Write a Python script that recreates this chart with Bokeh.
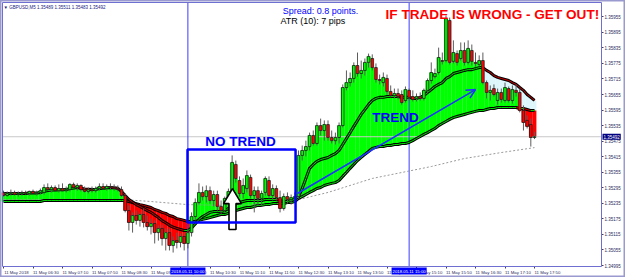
import numpy as np
from bokeh.plotting import figure
from bokeh.models import (FixedTicker, BoxAnnotation, Label, Arrow, OpenHead,
                          Range1d, PrintfTickFormatter, LinearAxis)
from bokeh.embed import file_html
from bokeh.resources import INLINE

# ---------------- data (GBPUSD, M5, 11 May 2018 05:50 .. 17:50) ----------------
open_ = [1.35277, 1.35265, 1.35273, 1.35277, 1.35269, 1.35273, 1.35277, 1.35273, 1.35281, 1.35273,
         1.35277, 1.35277, 1.35296, 1.35288, 1.35296, 1.35284, 1.35292, 1.35284, 1.35288, 1.35308,
         1.35296, 1.35304, 1.35288, 1.35281, 1.35288, 1.35284, 1.35292, 1.35300, 1.35292, 1.35300,
         1.35296, 1.35292, 1.35288, 1.35265, 1.35207, 1.35161, 1.35188, 1.35169, 1.35192, 1.35161,
         1.35145, 1.35157, 1.35122, 1.35138, 1.35099, 1.35122, 1.35072, 1.35091, 1.35084, 1.35107,
         1.35080, 1.35122, 1.35184, 1.35238, 1.35277, 1.35261, 1.35284, 1.35246, 1.35269, 1.35223,
         1.35207, 1.35254, 1.35284, 1.35385, 1.35323, 1.35273, 1.35292, 1.35335, 1.35265, 1.35284,
         1.35254, 1.35277, 1.35323, 1.35265, 1.35292, 1.35257, 1.35215, 1.35261, 1.35250, 1.35257,
         1.35261, 1.35420, 1.35439, 1.35454, 1.35497, 1.35466, 1.35535, 1.35516, 1.35539, 1.35489,
         1.35477, 1.35489, 1.35535, 1.35682, 1.35701, 1.35717, 1.35767, 1.35736, 1.35748, 1.35779,
         1.35794, 1.35759, 1.35713, 1.35701, 1.35717, 1.35667, 1.35651, 1.35659, 1.35655, 1.35632,
         1.35671, 1.35647, 1.35640, 1.35647, 1.35640, 1.35671, 1.35709, 1.35724, 1.35740, 1.35786,
         1.35786, 1.35941, 1.35783, 1.35813, 1.35794, 1.35825, 1.35779, 1.35825, 1.35779, 1.35771,
         1.35786, 1.35701, 1.35663, 1.35678, 1.35632, 1.35663, 1.35632, 1.35678, 1.35632, 1.35671,
         1.35663, 1.35593, 1.35555, 1.35539, 1.35489]

high = [1.35284, 1.35281, 1.35288, 1.35284, 1.35281, 1.35284, 1.35284, 1.35284, 1.35288, 1.35284,
        1.35292, 1.35308, 1.35312, 1.35304, 1.35304, 1.35308, 1.35312, 1.35300, 1.35312, 1.35315,
        1.35312, 1.35308, 1.35300, 1.35296, 1.35300, 1.35300, 1.35312, 1.35312, 1.35308, 1.35312,
        1.35308, 1.35304, 1.35300, 1.35273, 1.35227, 1.35200, 1.35207, 1.35200, 1.35215, 1.35188,
        1.35176, 1.35169, 1.35149, 1.35153, 1.35138, 1.35138, 1.35107, 1.35122, 1.35119, 1.35122,
        1.35138, 1.35200, 1.35254, 1.35312, 1.35300, 1.35304, 1.35300, 1.35284, 1.35284, 1.35246,
        1.35261, 1.35292, 1.35420, 1.35400, 1.35339, 1.35331, 1.35362, 1.35346, 1.35300, 1.35300,
        1.35284, 1.35339, 1.35339, 1.35308, 1.35304, 1.35284, 1.35273, 1.35277, 1.35269, 1.35277,
        1.35439, 1.35458, 1.35477, 1.35508, 1.35516, 1.35547, 1.35562, 1.35555, 1.35555, 1.35516,
        1.35508, 1.35547, 1.35694, 1.35748, 1.35740, 1.35779, 1.35817, 1.35786, 1.35794, 1.35813,
        1.35810, 1.35775, 1.35732, 1.35740, 1.35732, 1.35690, 1.35678, 1.35678, 1.35671, 1.35686,
        1.35678, 1.35671, 1.35659, 1.35663, 1.35678, 1.35717, 1.35779, 1.35755, 1.35836, 1.35817,
        1.35960, 1.35952, 1.35864, 1.35825, 1.35856, 1.35856, 1.35864, 1.35848, 1.35817, 1.35806,
        1.35817, 1.35709, 1.35690, 1.35694, 1.35678, 1.35678, 1.35701, 1.35686, 1.35690, 1.35694,
        1.35678, 1.35613, 1.35574, 1.35562, 1.35511]

low = [1.35261, 1.35261, 1.35265, 1.35265, 1.35261, 1.35265, 1.35269, 1.35265, 1.35269, 1.35265,
       1.35269, 1.35269, 1.35284, 1.35277, 1.35281, 1.35277, 1.35281, 1.35277, 1.35281, 1.35292,
       1.35284, 1.35281, 1.35277, 1.35273, 1.35277, 1.35277, 1.35284, 1.35288, 1.35284, 1.35288,
       1.35284, 1.35281, 1.35261, 1.35200, 1.35130, 1.35122, 1.35153, 1.35145, 1.35142, 1.35130,
       1.35115, 1.35080, 1.35091, 1.35072, 1.35053, 1.35053, 1.35045, 1.35061, 1.35065, 1.35053,
       1.35061, 1.35107, 1.35169, 1.35230, 1.35246, 1.35238, 1.35234, 1.35223, 1.35207, 1.35192,
       1.35200, 1.35227, 1.35265, 1.35315, 1.35261, 1.35254, 1.35277, 1.35254, 1.35200, 1.35227,
       1.35223, 1.35265, 1.35254, 1.35246, 1.35246, 1.35200, 1.35207, 1.35234, 1.35230, 1.35238,
       1.35254, 1.35400, 1.35416, 1.35439, 1.35458, 1.35458, 1.35497, 1.35477, 1.35477, 1.35466,
       1.35462, 1.35466, 1.35528, 1.35671, 1.35686, 1.35701, 1.35724, 1.35717, 1.35728, 1.35759,
       1.35748, 1.35701, 1.35694, 1.35686, 1.35655, 1.35644, 1.35640, 1.35636, 1.35616, 1.35624,
       1.35632, 1.35628, 1.35628, 1.35632, 1.35632, 1.35659, 1.35697, 1.35717, 1.35732, 1.35771,
       1.35779, 1.35771, 1.35775, 1.35767, 1.35786, 1.35767, 1.35771, 1.35767, 1.35763, 1.35763,
       1.35694, 1.35640, 1.35632, 1.35647, 1.35616, 1.35624, 1.35624, 1.35624, 1.35620, 1.35647,
       1.35586, 1.35516, 1.35524, 1.35454, 1.35483]

close = [1.35265, 1.35273, 1.35277, 1.35269, 1.35273, 1.35277, 1.35273, 1.35281, 1.35273, 1.35277,
         1.35284, 1.35296, 1.35288, 1.35296, 1.35284, 1.35292, 1.35284, 1.35288, 1.35308, 1.35296,
         1.35304, 1.35288, 1.35281, 1.35288, 1.35284, 1.35292, 1.35300, 1.35292, 1.35300, 1.35296,
         1.35292, 1.35288, 1.35265, 1.35207, 1.35161, 1.35188, 1.35169, 1.35192, 1.35161, 1.35145,
         1.35157, 1.35122, 1.35138, 1.35099, 1.35122, 1.35072, 1.35091, 1.35084, 1.35107, 1.35080,
         1.35122, 1.35184, 1.35238, 1.35277, 1.35261, 1.35284, 1.35246, 1.35269, 1.35223, 1.35207,
         1.35254, 1.35281, 1.35393, 1.35331, 1.35273, 1.35304, 1.35342, 1.35265, 1.35284, 1.35254,
         1.35273, 1.35331, 1.35265, 1.35292, 1.35257, 1.35215, 1.35261, 1.35250, 1.35257, 1.35261,
         1.35420, 1.35439, 1.35454, 1.35497, 1.35466, 1.35535, 1.35516, 1.35539, 1.35489, 1.35477,
         1.35489, 1.35535, 1.35682, 1.35701, 1.35717, 1.35767, 1.35736, 1.35748, 1.35779, 1.35802,
         1.35759, 1.35713, 1.35709, 1.35721, 1.35667, 1.35651, 1.35659, 1.35647, 1.35624, 1.35674,
         1.35644, 1.35636, 1.35647, 1.35640, 1.35671, 1.35709, 1.35740, 1.35736, 1.35798, 1.35783,
         1.35948, 1.35779, 1.35817, 1.35779, 1.35825, 1.35779, 1.35833, 1.35783, 1.35775, 1.35786,
         1.35701, 1.35663, 1.35671, 1.35655, 1.35663, 1.35636, 1.35682, 1.35632, 1.35674, 1.35663,
         1.35593, 1.35547, 1.35532, 1.35489, 1.35492]

fast_ma = [1.35273, 1.35273, 1.35273, 1.35273, 1.35273, 1.35273, 1.35273, 1.35275, 1.35275, 1.35275,
           1.35277, 1.35281, 1.35284, 1.35286, 1.35286, 1.35287, 1.35287, 1.35288, 1.35292, 1.35294,
           1.35296, 1.35293, 1.35290, 1.35289, 1.35288, 1.35289, 1.35292, 1.35293, 1.35295, 1.35296,
           1.35295, 1.35293, 1.35281, 1.35265, 1.35250, 1.35240, 1.35230, 1.35223, 1.35215, 1.35207,
           1.35200, 1.35190, 1.35180, 1.35168, 1.35160, 1.35150, 1.35143, 1.35138, 1.35134, 1.35130,
           1.35130, 1.35140, 1.35155, 1.35173, 1.35184, 1.35192, 1.35200, 1.35203, 1.35203, 1.35203,
           1.35207, 1.35215, 1.35230, 1.35234, 1.35238, 1.35242, 1.35246, 1.35246, 1.35246, 1.35246,
           1.35246, 1.35250, 1.35250, 1.35250, 1.35250, 1.35246, 1.35242, 1.35242, 1.35246, 1.35250,
           1.35261, 1.35292, 1.35331, 1.35370, 1.35385, 1.35397, 1.35404, 1.35408, 1.35412, 1.35420,
           1.35427, 1.35439, 1.35462, 1.35485, 1.35508, 1.35532, 1.35555, 1.35578, 1.35597, 1.35616,
           1.35632, 1.35640, 1.35644, 1.35644, 1.35647, 1.35647, 1.35647, 1.35647, 1.35644, 1.35644,
           1.35644, 1.35640, 1.35640, 1.35644, 1.35651, 1.35663, 1.35674, 1.35686, 1.35694, 1.35701,
           1.35717, 1.35724, 1.35736, 1.35740, 1.35744, 1.35748, 1.35751, 1.35751, 1.35755, 1.35759,
           1.35759, 1.35748, 1.35740, 1.35728, 1.35721, 1.35717, 1.35713, 1.35709, 1.35701, 1.35694,
           1.35682, 1.35671, 1.35655, 1.35644, 1.35632]

slow_ma = [1.35242, 1.35242, 1.35242, 1.35242, 1.35242, 1.35242, 1.35242, 1.35242, 1.35242, 1.35242,
           1.35242, 1.35246, 1.35246, 1.35246, 1.35246, 1.35246, 1.35246, 1.35246, 1.35246, 1.35246,
           1.35246, 1.35246, 1.35246, 1.35246, 1.35246, 1.35246, 1.35246, 1.35246, 1.35246, 1.35246,
           1.35246, 1.35246, 1.35246, 1.35246, 1.35242, 1.35238, 1.35234, 1.35230, 1.35227, 1.35223,
           1.35219, 1.35211, 1.35207, 1.35200, 1.35196, 1.35188, 1.35184, 1.35176, 1.35173, 1.35169,
           1.35165, 1.35165, 1.35165, 1.35169, 1.35173, 1.35176, 1.35180, 1.35184, 1.35188, 1.35192,
           1.35192, 1.35196, 1.35203, 1.35207, 1.35211, 1.35215, 1.35219, 1.35219, 1.35223, 1.35227,
           1.35227, 1.35230, 1.35230, 1.35234, 1.35234, 1.35234, 1.35234, 1.35238, 1.35238, 1.35242,
           1.35254, 1.35261, 1.35269, 1.35277, 1.35284, 1.35292, 1.35296, 1.35304, 1.35308, 1.35312,
           1.35315, 1.35323, 1.35339, 1.35354, 1.35370, 1.35385, 1.35400, 1.35412, 1.35424, 1.35435,
           1.35447, 1.35451, 1.35454, 1.35454, 1.35458, 1.35458, 1.35462, 1.35462, 1.35466, 1.35466,
           1.35470, 1.35477, 1.35485, 1.35493, 1.35501, 1.35508, 1.35516, 1.35524, 1.35535, 1.35543,
           1.35551, 1.35559, 1.35566, 1.35570, 1.35574, 1.35578, 1.35582, 1.35586, 1.35590, 1.35593,
           1.35593, 1.35597, 1.35601, 1.35601, 1.35605, 1.35605, 1.35605, 1.35605, 1.35605, 1.35605,
           1.35601, 1.35601, 1.35597, 1.35593, 1.35593]

long_ma_bars = [0, 16, 32, 40, 50, 60, 70, 79, 88, 100, 116, 125, 135, 144]
long_ma = [1.35250, 1.35250, 1.35250, 1.35242, 1.35230, 1.35227, 1.35230, 1.35246, 1.35277,
           1.35331, 1.35377, 1.35408, 1.35431, 1.35450]

time_tick_bars = [0, 8, 16, 24, 32, 40, 48, 56, 64, 72, 80, 88, 96, 104, 112, 120, 128, 136, 144]
time_labels = ["11 May 2018", "11 May 06:30", "11 May 07:10", "11 May 07:50", "11 May 08:30",
               "11 May 09:10", "11 May 09:50", "11 May 10:30", "11 May 11:10", "11 May 11:50",
               "11 May 12:30", "11 May 13:10", "11 May 13:50", "11 May 14:30", "11 May 15:10",
               "11 May 15:50", "11 May 16:30", "11 May 17:10", "11 May 17:50"]

price_ticks = [1.34995, 1.35055, 1.35115, 1.35175, 1.35235, 1.35295, 1.35355, 1.35415, 1.35475,
               1.35535, 1.35595, 1.35655, 1.35715, 1.35775, 1.35835, 1.35895, 1.35955]

vline_bars = [50, 110]
vline_labels = ["2018.05.11 10:00", "2018.05.11 15:00"]
last_price = 1.35492

# ---------------- geometry ----------------
o = np.array(open_); h = np.array(high); l = np.array(low); c = np.array(close)
fast = np.array(fast_ma); slow = np.array(slow_ma)
bars = np.arange(len(c))

PX_PER_BAR = 3.6875
X_START = -3 / PX_PER_BAR
X_END = X_START + 625 / PX_PER_BAR
PRICE_PER_PX = 0.0000386
Y_END = 1.360179
Y_START = Y_END - 277 * PRICE_PER_PX
# chart area (inside the terminal window)
CH_LEFT, CH_RIGHT = X_START + 2 / PX_PER_BAR, X_START + 601 / PX_PER_BAR
CH_TOP, CH_BOTTOM = Y_END - 2 * PRICE_PER_PX, Y_END - 266 * PRICE_PER_PX
FONT = "Liberation Sans"

p = figure(width=625, height=277, output_backend="svg", toolbar_location=None,
           x_range=Range1d(X_START, X_END), y_range=Range1d(Y_START, Y_END),
           x_axis_location=None, y_axis_location=None,
           min_border_left=0, min_border_right=0, min_border_top=0, min_border_bottom=0)
p.xgrid.visible = False
p.ygrid.visible = False
p.background_fill_color = "white"
p.border_fill_color = "white"
p.outline_line_color = "#9a9ad0"
p.outline_line_width = 2

# cloud between the two averages
band_col = ["#dcf6fb" if f >= s else "#fbe2e6" for f, s in zip(fast, slow)]
p.vbar(x=bars, top=np.maximum(fast, slow), bottom=np.minimum(fast, slow), width=1.04,
       fill_color=band_col, line_color=None)
# histogram between close and slow average
hist_col = ["#00ff00" if cc >= s else "#ff0000" for cc, s in zip(c, slow)]
p.vbar(x=bars, top=c, bottom=slow, width=1.04, fill_color=hist_col, line_color=None)

# current price line and vertical lines (inside chart area)
p.segment(x0=[CH_LEFT], y0=[last_price], x1=[CH_RIGHT], y1=[last_price],
          line_color="#c8c8c8", line_width=1)
p.segment(x0=vline_bars, y0=[CH_BOTTOM] * len(vline_bars), x1=vline_bars,
          y1=[CH_TOP] * len(vline_bars), line_color="#3c3cff", line_width=1)

# long average (dotted)
p.line(long_ma_bars, long_ma, line_color="#9a9a9a", line_width=1, line_dash="2 2")

# averages: black outline + coloured core
for ma in (slow, fast):
    p.line(bars, ma, line_color="black", line_width=3)
    seg_col = ["#00e000" if b >= a else "#d00000" for a, b in zip(ma[:-1], ma[1:])]
    p.segment(x0=bars[:-1], y0=ma[:-1], x1=bars[1:], y1=ma[1:], line_color=seg_col, line_width=1)

# candles
p.segment(x0=bars, y0=l, x1=bars, y1=h, line_color="#5c5c5c", line_width=1)
body_col = ["#00ff00" if cc >= oo else "#ff0000" for oo, cc in zip(o, c)]
p.vbar(x=bars, top=np.maximum(o, c), bottom=np.minimum(o, c), width=0.72,
       fill_color=body_col, line_color="#202020", line_width=0.8)

# chart border
p.add_layout(BoxAnnotation(left=CH_LEFT, right=CH_RIGHT, top=CH_TOP, bottom=CH_BOTTOM,
                           fill_alpha=0, line_color="#6f6fd2", line_alpha=1, line_width=1))

# ---------------- axes (fixed at the chart border) ----------------
shift = 3.5
label_pos = [t + shift for t in time_tick_bars]
xaxis = LinearAxis(fixed_location=CH_BOTTOM,
                   ticker=FixedTicker(ticks=label_pos, minor_ticks=time_tick_bars))
xaxis.major_label_overrides = {pos: lab for pos, lab in zip(label_pos, time_labels)}
xaxis.major_tick_line_color = None
xaxis.major_tick_out = 2
xaxis.major_tick_in = 0
xaxis.minor_tick_line_color = "#404060"
xaxis.minor_tick_out = 2
xaxis.minor_tick_in = 0
xaxis.axis_line_color = None
xaxis.major_label_standoff = 1
xaxis.major_label_text_font = FONT
xaxis.major_label_text_font_size = "4.3px"
xaxis.major_label_text_color = "#2a2a60"
p.add_layout(xaxis, "below")

yaxis = LinearAxis(fixed_location=CH_RIGHT, ticker=FixedTicker(ticks=price_ticks),
                   formatter=PrintfTickFormatter(format="%.5f"))
yaxis.major_tick_out = 2
yaxis.major_tick_in = 0
yaxis.major_tick_line_color = "#404060"
yaxis.minor_tick_line_color = None
yaxis.axis_line_color = None
yaxis.major_label_standoff = 1
yaxis.major_label_text_font = FONT
yaxis.major_label_text_font_size = "4.5px"
yaxis.major_label_text_color = "#2a2a60"
p.add_layout(yaxis, "right")

# ---------------- annotations ----------------
for vb, txt in zip(vline_bars, vline_labels):
    p.add_layout(Label(x=vb, y=CH_BOTTOM, y_offset=-4.5, text=txt, text_align="center",
                       text_baseline="middle", text_color="white", text_font=FONT,
                       text_font_size="4.3px", background_fill_color="#0000ff", padding=1))

p.add_layout(Label(x=CH_RIGHT, y=last_price, x_offset=1, text="%.5f" % last_price,
                   text_align="left", text_baseline="middle", text_color="white",
                   text_font=FONT, text_font_size="4.5px", background_fill_color="#000080",
                   padding=1))

p.add_layout(Label(x=0, y=1.35991, text="\u25bc GBPUSD,M5  1.35489 1.35511 1.35483 1.35492",
                   text_align="left", text_baseline="middle", text_color="#202080",
                   text_font=FONT, text_font_size="4.5px"))

# NO TREND box
p.add_layout(BoxAnnotation(left=49.9, right=79.2, top=1.35443, bottom=1.35161,
                           fill_alpha=0, line_color="#0000ff", line_alpha=1, line_width=2.5))
p.add_layout(Label(x=64.3, y=1.35474, text="NO TREND", text_align="center", text_baseline="middle",
                   text_color="#0000ff", text_font=FONT, text_font_style="bold",
                   text_font_size="13.5px"))

# hollow up arrow
ax, tip, neck, base = 62.1, 1.35292, 1.35234, 1.35134
hw, sw = 2.44, 0.95
p.patch([ax, ax + hw, ax + sw, ax + sw, ax - sw, ax - sw, ax - hw],
        [tip, neck, neck, base, base, neck, neck],
        fill_color="white", line_color="black", line_width=1.6)

# trend arrow
p.add_layout(Arrow(x_start=79.7, y_start=1.35273, x_end=128.0, y_end=1.35674,
                   line_color="#2030ff", line_width=1.6,
                   end=OpenHead(size=9, line_color="#2030ff", line_width=1.6)))
p.add_layout(Label(x=106.3, y=1.35566, text="TREND", text_align="center", text_baseline="middle",
                   text_color="#0000ff", text_font=FONT, text_font_style="bold",
                   text_font_size="13.5px"))

p.add_layout(Label(x=103.6, y=1.35964, text="IF TRADE IS WRONG - GET OUT!", text_align="left",
                   text_baseline="middle", text_color="#ff0000", text_font=FONT,
                   text_font_style="bold", text_font_size="13.6px"))

p.add_layout(Label(x=75.7, y=1.35979, text="Spread: 0.8 points.", text_align="left",
                   text_baseline="middle", text_color="#0000ff", text_font=FONT,
                   text_font_size="9px"))
p.add_layout(Label(x=75.1, y=1.35939, text="ATR (10): 7 pips", text_align="left",
                   text_baseline="middle", text_color="black", text_font=FONT,
                   text_font_size="9px"))

open("out.html", "w").write(file_html(p, INLINE))
